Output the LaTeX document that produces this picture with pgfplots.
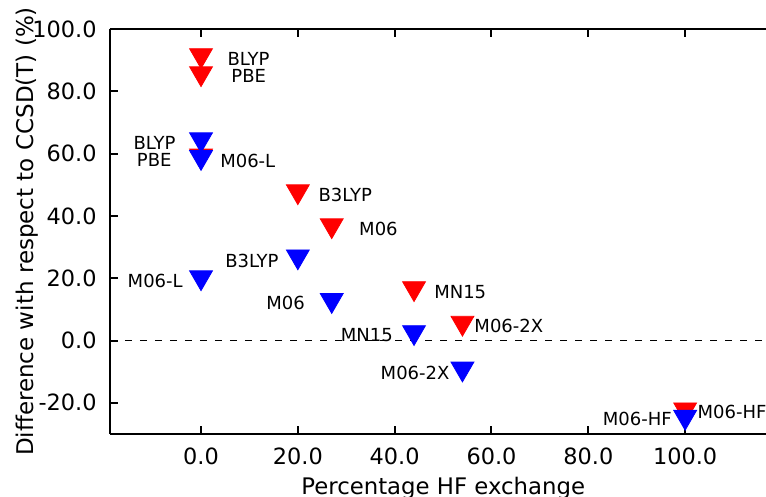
\documentclass[border=0pt]{standalone}
\usepackage{pgfplots}
\pgfplotsset{compat=1.18}
\usepackage{fontspec}
\setmainfont{DejaVu Sans}
\definecolor{mred}{RGB}{255,0,0}
\definecolor{mblue}{RGB}{0,0,255}
\begin{document}
\begin{tikzpicture}
\begin{axis}[
  scale only axis, width=328pt, height=202.5pt,
  xmin=-18.8, xmax=116.7, ymin=-30, ymax=100,
  axis x line=box, axis y line=left,
  axis line style={line width=1pt, -},
  tick align=inside, major tick length=4pt,
  tick style={black, line width=1pt},
  xtick={0,20,40,60,80,100}, ytick={-20,0,20,40,60,80,100},
  minor tick num=0,
  /pgf/number format/fixed, /pgf/number format/fixed zerofill,
  /pgf/number format/precision=1, /pgf/number format/assume math mode=true,
  xticklabel style={font=\fontsize{11.2}{13}\selectfont, inner sep=0pt, anchor=north, yshift=-6.5pt},
  yticklabel style={font=\fontsize{11.2}{13}\selectfont, inner sep=0pt, anchor=east, xshift=-6.5pt},
  xlabel={Percentage HF exchange},
  ylabel={Difference with respect to CCSD(T) (\%)},
  xlabel style={font=\fontsize{11.4}{13}\selectfont, inner sep=0pt, at={(axis description cs:0.508,-0.106)}, anchor=north},
  ylabel style={font=\fontsize{11.5}{13}\selectfont, at={(axis description cs:-0.1265,0.5)}, anchor=center, rotate=0},
  clip=false,
]
\coordinate (bl) at (rel axis cs:0,0);
\coordinate (tr) at (rel axis cs:1,1);
\addplot[black, dashed, dash pattern=on 3.7pt off 3.8pt, line width=0.9pt, forget plot] coordinates {(-18.8,0) (116.7,0)};
% red series (BLYP, PBE, M06-L, B3LYP, M06, MN15, M06-2X, M06-HF)
\addplot[only marks, mark=triangle*, mark size=6.6pt, color=mred,
  mark options={yshift=1.65pt, rotate=180, fill=mred, draw=mred}] coordinates {
  (0,90.5) (0,84.7) (0,58.3) (20,46.8) (27,35.9) (44,15.7) (54,4.6) (100,-23.2)};
% blue series
\addplot[only marks, mark=triangle*, mark size=6.6pt, color=mblue,
  mark options={yshift=1.65pt, rotate=180, fill=mblue, draw=mblue}] coordinates {
  (0,63.5) (0,57.8) (0,19.2) (20,25.9) (27,11.9) (44,1.6) (54,-10.1) (100,-25.6)};
\begin{scope}[every node/.style={font=\fontsize{9}{11}\selectfont, inner sep=0pt}]
\node[anchor=west] at (axis cs:5.4,90.5) {BLYP};
\node[anchor=west] at (axis cs:6.2,84.8) {PBE};
\node[anchor=west] at (axis cs:3.9,57.6) {M06-L};
\node[anchor=west] at (axis cs:24.2,46.8) {B3LYP};
\node[anchor=west] at (axis cs:32.6,35.9) {M06};
\node[anchor=west] at (axis cs:48.1,15.7) {MN15};
\node[anchor=west] at (axis cs:56.4,4.8) {M06-2X};
\node[anchor=west] at (axis cs:102.5,-23.0) {M06-HF};
\node[anchor=east] at (axis cs:-5.2,63.5) {BLYP};
\node[anchor=east] at (axis cs:-6.0,58.0) {PBE};
\node[anchor=east] at (axis cs:-3.7,19.2) {M06-L};
\node[anchor=east] at (axis cs:16.1,25.6) {B3LYP};
\node[anchor=east] at (axis cs:21.5,12.2) {M06};
\node[anchor=east] at (axis cs:39.7,1.9) {MN15};
\node[anchor=east] at (axis cs:51.4,-10.3) {M06-2X};
\node[anchor=east] at (axis cs:97.3,-25.3) {M06-HF};
\end{scope}
\end{axis}
\pgfresetboundingbox
\path ([shift={(-55pt,-31.5pt)}]bl) rectangle ([shift={(0pt,14.5pt)}]tr);
\end{tikzpicture}
\end{document}
